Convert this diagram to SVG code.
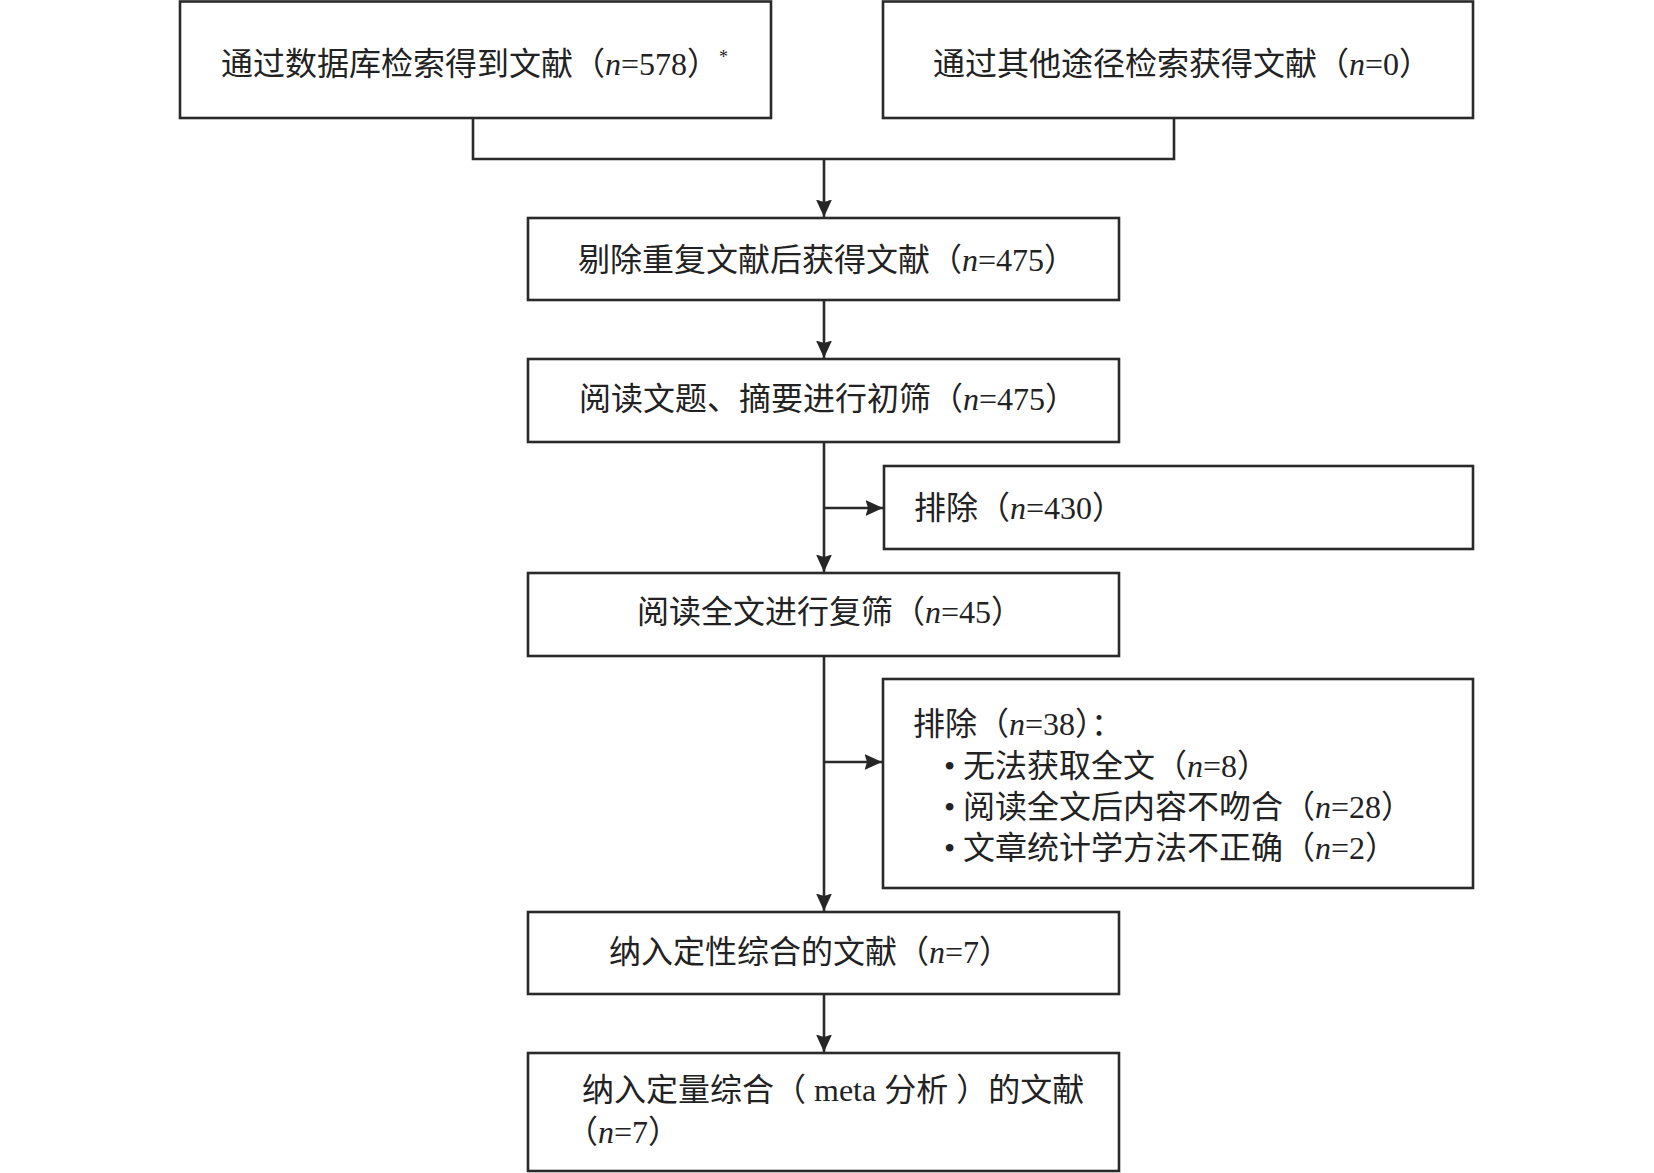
<svg xmlns="http://www.w3.org/2000/svg" width="1654" height="1173" viewBox="0 0 1654 1173">
<defs>
<style>
.box{fill:#ffffff;stroke:#2a2a2a;stroke-width:2.6}
.conn{fill:none;stroke:#2a2a2a;stroke-width:2.6}
.t{font-family:"Liberation Serif","Noto Sans CJK SC",serif;font-size:32px;fill:#222222}
.i{font-style:italic}
</style>
<marker id="arr" viewBox="0 -9 18 18" refX="17.5" refY="0" markerWidth="18" markerHeight="18" markerUnits="userSpaceOnUse" orient="auto">
<path d="M0,-8 L17.5,0 L0,8 L2.5,0 Z" fill="#262626"/>
</marker>
</defs>
<rect width="1654" height="1173" fill="#ffffff"/>
<g id="connectors">
<path class="conn" d="M473,118 V159 H1174 V118"/>
<path class="conn" d="M824,159 V217" marker-end="url(#arr)"/>
<path class="conn" d="M824,300 V358" marker-end="url(#arr)"/>
<path class="conn" d="M824,442 V572" marker-end="url(#arr)"/>
<path class="conn" d="M824,508 H883" marker-end="url(#arr)"/>
<path class="conn" d="M824,656 V911" marker-end="url(#arr)"/>
<path class="conn" d="M824,762 H882" marker-end="url(#arr)"/>
<path class="conn" d="M824,994 V1052" marker-end="url(#arr)"/>
</g>
<g id="nodeA">
<rect class="box" x="180" y="1.5" width="591" height="116.5"/>
<text class="t" x="221" y="75">通过数据库检索得到文献（<tspan class="i">n</tspan>=578）<tspan font-size="18" dy="-12">*</tspan></text>
</g>
<g id="nodeB">
<rect class="box" x="883" y="1.5" width="590" height="116.5"/>
<text class="t" x="933" y="75">通过其他途径检索获得文献（<tspan class="i">n</tspan>=0）</text>
</g>
<g id="nodeC">
<rect class="box" x="528" y="218" width="591" height="82"/>
<text class="t" x="578" y="271">剔除重复文献后获得文献（<tspan class="i">n</tspan>=475）</text>
</g>
<g id="nodeD">
<rect class="box" x="528" y="359" width="591" height="83"/>
<text class="t" x="579" y="410">阅读文题、摘要进行初筛（<tspan class="i">n</tspan>=475）</text>
</g>
<g id="nodeE">
<rect class="box" x="884" y="466" width="589" height="83"/>
<text class="t" x="914" y="519">排除（<tspan class="i">n</tspan>=430）</text>
</g>
<g id="nodeF">
<rect class="box" x="528" y="573" width="591" height="83"/>
<text class="t" x="637" y="623">阅读全文进行复筛（<tspan class="i">n</tspan>=45）</text>
</g>
<g id="nodeG">
<rect class="box" x="883" y="679" width="590" height="209"/>
<text class="t" x="913" y="735">排除（<tspan class="i">n</tspan>=38）：</text>
<text class="t" y="777"><tspan x="944">•</tspan><tspan x="963">无法获取全文（<tspan class="i">n</tspan>=8）</tspan></text>
<text class="t" y="818"><tspan x="944">•</tspan><tspan x="963">阅读全文后内容不吻合（<tspan class="i">n</tspan>=28）</tspan></text>
<text class="t" y="859"><tspan x="944">•</tspan><tspan x="963">文章统计学方法不正确（<tspan class="i">n</tspan>=2）</tspan></text>
</g>
<g id="nodeH">
<rect class="box" x="528" y="912" width="591" height="82"/>
<text class="t" x="609" y="963">纳入定性综合的文献（<tspan class="i">n</tspan>=7）</text>
</g>
<g id="nodeI">
<rect class="box" x="528" y="1053" width="591" height="118"/>
<text class="t" x="582" y="1101">纳入定量综合（ meta 分析 ）的文献</text>
<text class="t" x="566" y="1143">（<tspan class="i">n</tspan>=7）</text>
</g>
</svg>
